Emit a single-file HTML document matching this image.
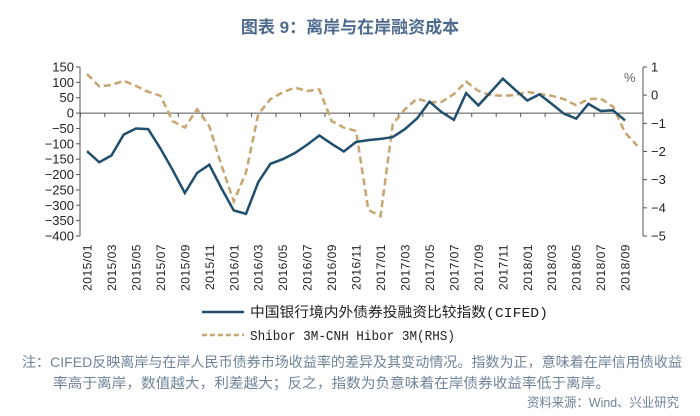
<!DOCTYPE html>
<html><head><meta charset="utf-8">
<style>
body{margin:0;background:#fff;width:700px;height:416px;overflow:hidden;font-family:"Liberation Sans","Noto Sans CJK SC",sans-serif;}
svg{display:block}
</style></head>
<body>
<svg id="chart" width="700" height="416" xmlns="http://www.w3.org/2000/svg">
<text x="350" y="33" text-anchor="middle" font-size="17" font-weight="bold" fill="#4d6b8c" font-family="Liberation Sans,Noto Sans CJK SC,sans-serif">图表 9：离岸与在岸融资成本</text>
<g id="axes"></g>
<g id="series"></g>
<g>
<line x1="202" y1="312" x2="244" y2="312" stroke="#1f4e6e" stroke-width="2.5"/>
<text x="250" y="317" font-size="14" fill="#222" textLength="298" lengthAdjust="spacingAndGlyphs" font-family="Liberation Mono,Noto Sans CJK SC,monospace">中国银行境内外债券投融资比较指数(CIFED)</text>
<line x1="202" y1="335" x2="244" y2="335" stroke="#c8a46e" stroke-width="2.5" stroke-dasharray="5,3"/>
<text x="250" y="340" font-size="14" fill="#222" textLength="205" lengthAdjust="spacingAndGlyphs" font-family="Liberation Mono,Noto Sans CJK SC,monospace">Shibor 3M-CNH Hibor 3M(RHS)</text>
</g>
<text x="22" y="367" font-size="14" fill="#6f8398" textLength="660" lengthAdjust="spacingAndGlyphs">注：CIFED反映离岸与在岸人民币债券市场收益率的差异及其变动情况。指数为正，意味着在岸信用债收益</text>
<text x="53" y="388" font-size="14" fill="#6f8398" textLength="557" lengthAdjust="spacingAndGlyphs">率高于离岸，数值越大，利差越大；反之，指数为负意味着在岸债券收益率低于离岸。</text>
<text x="679" y="407" text-anchor="end" font-size="13" fill="#6f8398" textLength="152" lengthAdjust="spacingAndGlyphs">资料来源：Wind、兴业研究</text>
</svg>
<script>
const cifed=[-124,-160,-138,-70,-50,-52,-115,-185,-260,-195,-168,-245,-317,-328,-225,-165,-150,-130,-103,-73,-100,-125,-94,-88,-84,-78,-52,-17,37,3,-22,65,25,68,112,76,41,61,30,-2,-18,30,7,9,-24];
const shibor=[0.75,0.31,0.36,0.51,0.33,0.12,-0.02,-0.92,-1.15,-0.5,-1.1,-2.5,-3.77,-2.75,-0.68,-0.14,0.1,0.27,0.15,0.2,-0.92,-1.15,-1.27,-4.07,-4.3,-1.03,-0.5,-0.12,-0.26,-0.24,0.04,0.48,0.15,0,-0.02,0,0.12,0.04,-0.02,-0.14,-0.36,-0.14,-0.12,-0.4,-1.33,-1.8];
const leftTicks=[150,100,50,0,-50,-100,-150,-200,-250,-300,-350,-400];
const rightTicks=[1,0,-1,-2,-3,-4,-5];
const months=[];for(let y=2015;y<=2018;y++)for(let m=1;m<=12;m++){if(y===2018&&m>9)break;months.push(y+'/'+String(m).padStart(2,'0'));}
const NS='http://www.w3.org/2000/svg';
const X0=80,XR=643,YT=67,YB=236,step=12.23,P0=87;
const x=i=>P0+i*step;
const yL=v=>YT+(150-v)/550*(YB-YT);
const yR=v=>YT+(1-v)/6*(YB-YT);
function mk(tag,attrs,parent,txt){const e=document.createElementNS(NS,tag);for(const k in attrs)e.setAttribute(k,attrs[k]);if(txt!==undefined)e.textContent=txt;parent.appendChild(e);return e;}
const ax=document.getElementById('axes'),se=document.getElementById('series');
let e=mk('line',{x1:X0,y1:YT,x2:X0,y2:YB,stroke:'#555','stroke-width':1},ax);


e=mk('line',{x1:XR,y1:YT,x2:XR,y2:YB,stroke:'#555','stroke-width':1},ax);


e=mk('line',{x1:X0,y1:yL(0),x2:XR,y2:yL(0),stroke:'#555','stroke-width':1},ax);


leftTicks.forEach(v=>{mk('line',{x1:X0-4,y1:yL(v),x2:X0,y2:yL(v),stroke:'#555'},ax);
const t=mk('text',{x:X0-6,y:yL(v)+4.5,'text-anchor':'end','font-size':13,fill:'#222'},ax,v<0?'\u2212'+(-v):String(v));

});
rightTicks.forEach(v=>{mk('line',{x1:XR,y1:yR(v),x2:XR+4,y2:yR(v),stroke:'#555'},ax);
const t=mk('text',{x:XR+8,y:yR(v)+4.5,'font-size':13,fill:'#222'},ax,v<0?'\u2212'+(-v):String(v));

});
e=mk('text',{x:624,y:82,'font-size':13,fill:'#666'},ax,'%');


for(let i=0;i<=months.length;i+=2){const tx=x(i)-step/2-0.5;mk('line',{x1:tx,y1:yL(0),x2:tx,y2:yL(0)+4,stroke:'#555'},ax);}
months.forEach((m,i)=>{if(i%2)return;const t=mk('text',{transform:`translate(${x(i)+4.5},244) rotate(-90)`,'text-anchor':'end','font-size':12,fill:'#222','letter-spacing':'0.5'},ax,m);

});
e=mk('polyline',{points:shibor.map((v,i)=>x(i)+','+yR(v)).join(' '),fill:'none',stroke:'#c8a46e','stroke-width':2.5,'stroke-dasharray':'7,4'},se);


e=mk('polyline',{points:cifed.map((v,i)=>x(i)+','+yL(v)).join(' '),fill:'none',stroke:'#1f4e6e','stroke-width':2.5},se);


</script>
</body></html>
